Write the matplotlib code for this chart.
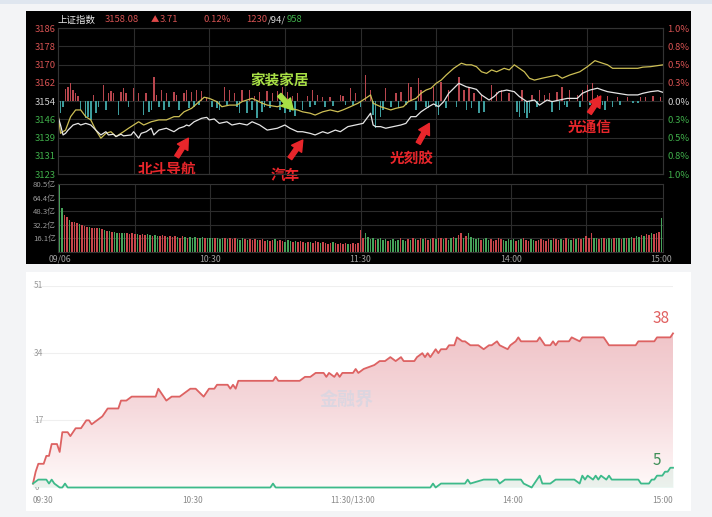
"""
Shanghai index intraday screenshot + limit-up / limit-down count chart
"""
import numpy as np
import matplotlib
matplotlib.use('Agg')
import matplotlib.pyplot as plt
from matplotlib.colors import LinearSegmentedColormap
from matplotlib.patches import Rectangle, PathPatch
from matplotlib.transforms import blended_transform_factory

plt.rcParams['font.family'] = ['Noto Sans CJK SC', 'DejaVu Sans']

W, H = 712, 517

# ---------------- data: top panel (上证指数) ----------------
prev_close = 3154.37
pct_labels = ['1.0%', '0.8%', '0.5%', '0.3%', '0.0%', '0.3%', '0.5%', '0.8%', '1.0%']

# index price (white line), minute -> price
white_t = [0, 1, 2, 3, 4, 6, 8, 9, 11, 13, 15, 17, 19, 20, 22, 23, 25, 26, 29, 30,
           32, 33, 35, 37, 38, 40, 43, 46, 48, 50, 51, 52, 54, 57, 59, 60, 62, 64, 67, 69,
           72, 75, 77, 80, 83, 87, 90, 92, 95, 97, 100, 102, 105, 107, 110, 112, 115, 118, 121, 123,
           124, 125, 126, 128, 130, 133, 136, 138, 140, 142, 144, 147, 149, 151, 153, 155, 159, 162, 164, 166,
           168, 171, 173, 175, 178, 181, 183, 186, 189, 191, 194, 196, 199, 202, 206, 208, 211, 214, 216, 218,
           222, 226, 230, 232, 235, 238, 240]
white_p = [3147.6, 3144.0, 3139.7, 3140.4, 3141.8, 3144.0, 3144.7, 3144.0, 3144.7, 3144.0,
           3141.8, 3139.7, 3141.1, 3139.7, 3140.0, 3139.0, 3140.0, 3139.3, 3139.7, 3141.1,
           3138.3, 3140.4, 3141.1, 3142.6, 3139.7, 3141.8, 3142.6, 3141.1, 3142.6, 3143.3,
           3144.0, 3143.6, 3145.4, 3146.9, 3147.3, 3146.2, 3146.6, 3144.7, 3145.4, 3144.0,
           3144.7, 3144.0, 3145.4, 3144.0, 3141.8, 3142.6, 3144.0, 3142.6, 3141.1, 3141.1,
           3140.4, 3139.7, 3141.1, 3140.4, 3141.8, 3141.1, 3143.3, 3144.0, 3144.7, 3147.6,
           3149.1, 3144.0, 3143.3, 3143.3, 3142.6, 3143.3, 3144.0, 3144.7, 3147.6, 3147.6,
           3149.7, 3151.9, 3153.1, 3151.9, 3154.1, 3157.7, 3162.0, 3160.5, 3160.0, 3159.4,
           3157.0, 3154.8, 3156.3, 3158.4, 3159.1, 3158.4, 3156.3, 3154.1, 3154.8, 3152.6,
           3154.8, 3154.1, 3154.8, 3155.5, 3155.5, 3157.7, 3159.1, 3159.9, 3159.1, 3158.4,
           3157.7, 3157.0, 3157.0, 3157.7, 3158.4, 3158.8, 3158.1]

# leading index (yellow line)
yellow_t = [0, 1, 3, 5, 7, 9, 11, 13, 15, 17, 19, 21, 23, 26, 28, 30, 32, 34, 37, 40,
            43, 46, 48, 50, 53, 56, 58, 60, 63, 65, 68, 71, 73, 77, 79, 81, 83, 87, 89, 92,
            95, 97, 100, 102, 105, 108, 111, 113, 116, 119, 122, 124, 125, 128, 130, 132, 134, 137, 139, 142,
            144, 146, 148, 150, 152, 154, 157, 160, 162, 164, 166, 168, 170, 172, 174, 177, 179, 181, 183, 185,
            187, 189, 192, 195, 198, 200, 203, 207, 210, 213, 216, 218, 220, 224, 230, 232, 235, 240]
yellow_p = [3149.1, 3140.4, 3141.8, 3147.6, 3150.5, 3150.5, 3147.6, 3146.2, 3141.8, 3138.3,
            3140.4, 3141.1, 3139.0, 3141.1, 3142.6, 3144.0, 3145.4, 3144.0, 3145.4, 3146.2,
            3146.2, 3147.6, 3147.6, 3149.7, 3151.2, 3154.1, 3156.0, 3155.5, 3154.1, 3151.9,
            3152.6, 3152.6, 3154.1, 3155.5, 3154.5, 3153.4, 3152.6, 3151.9, 3152.6, 3151.2,
            3150.5, 3149.7, 3149.1, 3148.3, 3149.7, 3150.5, 3149.7, 3150.5, 3151.9, 3153.4,
            3155.5, 3157.0, 3153.4, 3151.9, 3151.2, 3150.5, 3151.2, 3151.9, 3154.1, 3155.5,
            3157.7, 3159.1, 3159.9, 3162.0, 3163.4, 3165.6, 3168.5, 3170.7, 3170.0, 3170.0,
            3169.2, 3167.0, 3166.3, 3167.8, 3167.0, 3168.5, 3167.8, 3170.0, 3168.5, 3167.0,
            3164.2, 3163.4, 3164.2, 3164.9, 3165.6, 3164.2, 3165.6, 3167.0, 3169.2, 3171.8,
            3170.7, 3170.0, 3168.5, 3168.5, 3168.5, 3169.0, 3169.2, 3170.0]

# buy/sell strength bars around the previous close (points)
strength_t = [1, 2, 3, 4, 5, 6, 7, 8, 9, 11, 12, 13, 14, 15, 16, 18, 19, 20, 21, 22,
              24, 25, 26, 27, 28, 30, 32, 34, 35, 36, 37, 38, 39, 40, 41, 42, 43, 44, 46, 47,
              48, 50, 51, 52, 53, 54, 55, 56, 57, 59, 61, 63, 64, 66, 67, 68, 70, 71, 72, 73,
              75, 76, 77, 78, 79, 80, 81, 82, 83, 84, 85, 87, 88, 89, 90, 91, 92, 93, 94, 95,
              97, 99, 100, 101, 102, 103, 105, 106, 108, 109, 112, 113, 114, 116, 117, 118, 120, 122, 124, 125,
              126, 128, 129, 130, 132, 134, 135, 136, 138, 139, 140, 142, 143, 144, 146, 147, 149, 150, 151, 152,
              154, 155, 158, 159, 161, 162, 163, 164, 165, 167, 168, 169, 172, 174, 176, 179, 182, 183, 184, 185,
              186, 187, 188, 190, 191, 193, 195, 196, 198, 199, 200, 201, 202, 203, 206, 207, 208, 210, 211, 212,
              213, 214, 216, 217, 218, 220, 222, 223, 226, 228, 230, 231, 233, 236, 239]
strength_v = [-5.3, -2.4, 5.0, 6.2, 7.6, 4.8, 3.3, 2.2, -3.9, -7.5, -6.8, -8.2, 2.6, -5.3, -2.4, 6.9, -3.9, 3.3, 4.5, 3.6,
              -6.0, 4.0, 5.5, 3.3, -2.4, 5.5, 3.3, -6.0, 3.3, -4.6, -3.9, 10.5, 2.6, -2.4, 4.8, -3.9, 3.3, -2.4, 4.0, 2.6,
              -3.9, 3.3, 4.8, -3.2, 4.0, -2.4, 4.8, -1.7, 4.5, 1.6, -2.4, -3.2, -3.9, 5.9, -1.7, 4.8, 3.3, -2.4, -5.3, 4.8,
              -5.3, 4.8, -3.9, 2.2, -7.5, 4.0, -4.6, -2.4, 4.5, -3.2, 3.3, 4.5, -3.9, 6.2, -5.3, 4.0, -4.6, 2.2, -6.5, 3.3,
              -3.9, 2.2, -2.4, 4.8, -1.7, 2.6, 1.6, -2.4, 1.9, -2.2, 2.6, 2.2, -1.7, 5.5, -1.7, 3.3, -2.4, 11.2, 4.8, -6.0,
              -11.8, -6.8, -3.9, 5.5, -2.4, 3.3, -3.2, 4.0, -1.7, 7.6, 6.2, -3.9, 9.8, 4.8, -2.4, -3.2, 6.2, -2.4, -6.0, 8.4,
              -3.2, 4.8, -2.4, 10.5, 4.8, -3.9, 6.2, -3.2, 3.3, -5.3, 2.6, -4.6, 6.9, 4.0, 4.8, 3.3, -4.6, -6.8, 4.8, -5.3,
              -7.5, -5.3, 2.6, -2.4, 4.8, 2.6, 3.3, -4.6, 4.0, -3.9, 6.2, -1.7, -2.4, 4.8, 2.6, -2.4, 4.8, 6.9, -1.7, 7.6,
              -2.4, 2.6, -1.7, -3.9, 2.2, -2.4, 1.6, -1.7, 1.9, -1.0, -1.0, 1.6, 1.6, 2.2, 1.6]

# turnover per minute (亿) and bar colour (R = up, G = down)
volume = [80.5, 52, 44, 41, 38, 36, 35, 34, 33, 32, 31, 30, 30, 29, 28, 28, 28, 27, 26, 25,
          25, 24, 24, 23, 23, 22, 23, 22, 21, 22, 21, 21, 20, 21, 20, 21, 20, 19, 20, 19,
          19, 20, 19, 18, 19, 18, 19, 18, 17, 19, 18, 17, 18, 17, 18, 17, 16, 18, 17, 16,
          17, 16, 17, 16, 15, 17, 16, 15, 16, 15, 16, 15, 14, 16, 15, 14, 15, 14, 15, 14,
          14, 15, 13, 14, 13, 14, 15, 13, 14, 13, 12, 14, 13, 12, 13, 12, 13, 12, 11, 12,
          12, 11, 13, 12, 11, 12, 11, 10, 11, 12, 11, 10, 11, 10, 11, 10, 10, 11, 10, 11,
          26, 16, 22, 18, 15, 17, 14, 15, 16, 14, 15, 13, 14, 15, 13, 14, 16, 14, 13, 15,
          14, 16, 15, 14, 17, 15, 16, 14, 15, 16, 15, 17, 16, 15, 16, 14, 17, 18, 16, 20,
          22, 17, 19, 23, 18, 16, 15, 16, 14, 15, 16, 14, 15, 13, 14, 16, 15, 14, 13, 15,
          14, 15, 13, 14, 15, 16, 14, 13, 15, 14, 13, 14, 15, 14, 13, 15, 14, 16, 15, 14,
          15, 14, 16, 15, 14, 16, 15, 17, 15, 16, 19, 16, 22, 17, 16, 15, 17, 16, 15, 16,
          15, 16, 17, 16, 15, 16, 17, 16, 18, 17, 19, 18, 20, 19, 21, 20, 22, 21, 23, 24,
          40]
volume_dir = ("GGRRGRRRGRRRGRRRGRGR" "GRGGRGGRRRRGRRRGGRGG" "RRRGRRRGRRGRGGGRGGRG"
              "GGRGGGRGRRRGGGRGRRRG" "RRRGRRGRRRGGGRGRRRGR" "GRRRGRRRRGRRRRRGRRRR"
              "RRGGGGRGGGGRGGGGRGGR" "GRGRRGRRGRGRRGRGGRGR" "RGRGGGGGRGGGRRRRRGGG"
              "GGRGGRRRGGRRRRRRGRRR" "GRRGGRGRRGRRRGGRGRGG" "GRGGRGRGGRGGRGRRGRRR" "G")
vol_ticks = [16.1, 32.2, 48.3, 64.4, 80.5]
top_time_ticks = [0, 60, 120, 180, 240]
top_time_labels = ['09/06', '10:30', '11:30', '14:00', '15:00']

# sector call-outs: label, text pos, arrow tail, arrow head (minute, price)
callouts = [
    ('北斗导航', (43.2, 3125.0), (47.1, 3130.3), (51.7, 3138.3), '#e8262b'),
    ('汽车', (90.0, 3122.6), (92.0, 3129.6), (97.1, 3137.5), '#e8262b'),
    ('光刻胶', (140.4, 3129.5), (142.9, 3136.1), (147.3, 3144.7), '#e8262b'),
    ('光通信', (211.0, 3143.4), (210.8, 3149.1), (215.3, 3156.5), '#e8262b'),
    ('家装家居', (88.0, 3163.4), (87.8, 3157.0), (93.3, 3150.5), '#a8e045'),
]

# ---------------- data: bottom panel (涨停 / 跌停 counts) ----------------
up_t = [0, 1, 2, 4, 5, 6, 7, 9, 10, 11, 13, 14, 16, 18, 20, 21, 22, 24, 26, 27,
        28, 32, 33, 35, 37, 46, 47, 49, 50, 52, 55, 57, 59, 61, 64, 66, 68, 69, 73, 74,
        75, 76, 77, 90, 91, 92, 100, 102, 104, 106, 109, 110, 111, 113, 114, 115, 116, 120, 121, 122,
        124, 128, 130, 132, 134, 136, 138, 139, 143, 144, 146, 147, 148, 149, 151, 152, 153, 155, 156, 158,
        159, 161, 162, 164, 167, 169, 171, 172, 174, 175, 178, 179, 181, 182, 183, 189, 190, 191, 192, 194,
        195, 196, 197, 201, 202, 205, 206, 214, 216, 226, 227, 233, 234, 239, 240]
up_v = [1, 4, 6, 6, 8, 8, 11, 11, 9, 14, 14, 13, 15, 15, 17, 17, 16, 17, 18, 19,
        20, 20, 22, 22, 23, 23, 25, 23, 22, 23, 23, 24, 25, 25, 23, 25, 25, 26, 26, 25,
        26, 25, 27, 27, 28, 27, 27, 28, 28, 29, 29, 28, 29, 28, 29, 28, 29, 29, 30, 29,
        30, 31, 32, 32, 33, 32, 33, 32, 32, 33, 34, 33, 34, 33, 35, 34, 35, 35, 36, 36,
        38, 37, 37, 36, 36, 35, 36, 36, 37, 36, 35, 36, 37, 38, 37, 37, 38, 37, 36, 36,
        37, 36, 37, 37, 38, 37, 38, 38, 36, 36, 37, 37, 38, 38, 39]
down_t = [0, 2, 5, 6, 7, 8, 10, 11, 12, 13, 89, 90, 91, 149, 150, 151, 153, 162, 163, 164,
          169, 174, 175, 177, 183, 184, 187, 188, 190, 191, 194, 196, 203, 205, 206, 207, 208, 210, 211, 212,
          213, 215, 216, 217, 227, 228, 231, 232, 233, 234, 236, 237, 238, 239, 240]
down_v = [1, 2, 2, 1, 2, 1, 0, 0, 1, 0, 0, 1, 0, 0, 1, 0, 1, 1, 2, 1,
          2, 2, 1, 2, 2, 1, 0, 1, 3, 1, 1, 2, 2, 1, 3, 2, 3, 2, 3, 2,
          3, 2, 3, 2, 2, 1, 1, 2, 2, 3, 3, 4, 4, 5, 5]
count_ticks = [0, 17, 34, 51]
bottom_time_ticks = [0, 60, 120, 180, 240]
bottom_time_labels = ['09:30', '10:30', '11:30/13:00', '14:00', '15:00']


def px_rect(x0, y0, x1, y1):
    """pixel box (top-left origin) -> figure fraction rect"""
    return [x0 / W, 1 - y1 / H, (x1 - x0) / W, (y1 - y0) / H]


def px(x, y):
    return x / W, 1 - y / H


fig = plt.figure(figsize=(W / 100, H / 100), dpi=100, facecolor='#f3f4f6')

# page background pieces
for (x0, y0, x1, y1, c) in [(0, 0, 712, 4, '#dfe6ef'), (26, 11, 691, 264, '#000000'),
                            (26, 272, 691, 511, '#ffffff')]:
    fig.add_artist(Rectangle(px(x0, y1), (x1 - x0) / W, (y1 - y0) / H,
                             transform=fig.transFigure, facecolor=c, edgecolor='none', zorder=-5))

RED_TXT = '#d65252'
GRN_TXT = '#3fae4a'
GRID = '#2c2c2c'

# ---------------- price panel ----------------
ax_p = fig.add_axes(px_rect(58, 28, 663, 174), facecolor='black')
ax_p.set_xlim(0, 240)
ylo, yhi = prev_close * 0.99, prev_close * 1.01
ax_p.set_ylim(ylo, yhi)
levels = [prev_close * (1 + k * 0.0025) for k in range(-4, 5)]
for lv in levels:
    ax_p.axhline(lv, color=GRID, lw=0.8, zorder=0)
for t in range(30, 240, 30):
    ax_p.axvline(t, color=GRID, lw=0.8, zorder=0)

lvl_colors = [GRN_TXT] * 4 + ['#cfcfcf'] + [RED_TXT] * 4
ax_p.set_yticks(levels)
ax_p.set_yticklabels([f'{lv:.0f}' for lv in levels], fontsize=6.8)
for lab, c in zip(ax_p.get_yticklabels(), lvl_colors):
    lab.set_color(c)
ax_p.tick_params(length=0, pad=1.5)
ax_p.set_xticks([])

ax_r = ax_p.twinx()
ax_r.set_ylim(ylo, yhi)
ax_r.set_yticks(levels)
ax_r.set_yticklabels(pct_labels, fontsize=6.8)
for lab, c in zip(ax_r.get_yticklabels(), lvl_colors):
    lab.set_color(c)
ax_r.tick_params(length=0, pad=3)
for a in (ax_p, ax_r):
    for sp in a.spines.values():
        sp.set_color('#333333')
        sp.set_linewidth(0.8)

bar_cols = ['#b8464e' if v > 0 else '#3d9c9c' for v in strength_v]
ax_p.bar(strength_t, strength_v, bottom=prev_close, width=0.6, color=bar_cols, zorder=2)
ax_p.plot(yellow_t, yellow_p, color='#cdbf55', lw=0.9, zorder=3)
ax_p.plot(white_t, white_p, color='#e6e6e6', lw=0.9, zorder=4)

for label, tpos, tail, head, col in callouts:
    ax_p.annotate('', xy=head, xytext=tail,
                  arrowprops=dict(arrowstyle='simple,head_length=0.7,head_width=0.8,tail_width=0.3',
                                  color=col, mutation_scale=11, shrinkA=0, shrinkB=0),
                  zorder=6)
    ax_p.text(tpos[0], tpos[1], label, color=col, fontsize=10.5, fontweight='bold',
              ha='center', va='center', zorder=6, clip_on=False)

# header line; pieces chained left to right so they never collide
hdr_y = 20
fig.text(*px(58, hdr_y), '上证指数', color='#e8e8e8', fontsize=6.8, va='center')
fig.text(*px(105, hdr_y), '3158.08', color=RED_TXT, fontsize=6.8, va='center')
fig.text(*px(151, hdr_y), '▲', color='#e04848', fontsize=6, va='center')
fig.text(*px(160, hdr_y), '3.71', color=RED_TXT, fontsize=6.8, va='center')
fig.text(*px(203, hdr_y), '0.12%', color=RED_TXT, fontsize=6.8, va='center')
renderer = fig.canvas.get_renderer()
x_cur = 246
for part, col in [('1230', RED_TXT), ('/94/', '#d8d8d8'), ('958', GRN_TXT)]:
    t_obj = fig.text(*px(x_cur, hdr_y), part, color=col, fontsize=6.8, va='center')
    x_cur += t_obj.get_window_extent(renderer).width + 0.5

# ---------------- volume panel ----------------
ax_v = fig.add_axes(px_rect(58, 184, 663, 252), facecolor='black')
ax_v.set_xlim(-0.6, 240.6)
ax_v.set_ylim(0, vol_ticks[-1])
for v in vol_ticks:
    ax_v.axhline(v, color=GRID, lw=0.8, zorder=0)
for t in range(30, 240, 30):
    ax_v.axvline(t, color=GRID, lw=0.8, zorder=0)
vcols = ['#c8464b' if d == 'R' else '#46a35a' for d in volume_dir]
ax_v.bar(range(len(volume)), volume, width=0.6, color=vcols, zorder=2)
ax_v.set_yticks(vol_ticks)
ax_v.set_yticklabels([f'{v}亿' for v in vol_ticks], fontsize=5.6, color='#9a9a9a')
ax_v.set_xticks(top_time_ticks)
ax_v.set_xticklabels(top_time_labels, fontsize=6.3, color='#a0a0a0')
ax_v.tick_params(length=0, pad=1.5)
ax_v.tick_params(axis='x', pad=2)
for sp in ax_v.spines.values():
    sp.set_color('#333333')
    sp.set_linewidth(0.8)

# ---------------- limit-up / limit-down panel ----------------
ax_b = fig.add_axes(px_rect(33, 286, 673, 487.5))
ax_b.patch.set_alpha(0)
for sp in ax_b.spines.values():
    sp.set_visible(False)
for v in count_ticks[1:]:
    ax_b.axhline(v, color='#efefef', lw=0.8, zorder=0)
trans = blended_transform_factory(ax_b.transAxes, ax_b.transData)
for v in count_ticks:
    ax_b.text(0.002, v, str(v), transform=trans, fontsize=6, color='#9a9a9a',
              ha='left', va='center', zorder=1)

# gradient fill under the limit-up line
poly = ax_b.fill_between(up_t, up_v, 0, color='none', lw=0)
clip = PathPatch(poly.get_paths()[0], transform=ax_b.transData, facecolor='none', edgecolor='none')
ax_b.add_patch(clip)
grad = np.linspace(0, 1, 256).reshape(-1, 1)
cmap = LinearSegmentedColormap.from_list('pinkfade', ['#fff9f9', '#f6dadd', '#f0c4c8'])
im = ax_b.imshow(grad, extent=[0, 240, 0, max(up_v)], origin='lower', aspect='auto',
                 cmap=cmap, zorder=1)
im.set_clip_path(clip)
ax_b.fill_between(down_t, down_v, 0, color='#3dba8a', alpha=0.10, lw=0, zorder=2)

ax_b.text(0.49, 0.44, '金融界', transform=ax_b.transAxes, fontsize=13, fontweight='bold',
          color='#c9d6e6', alpha=0.55, ha='center', va='center', zorder=2)

ax_b.plot(up_t, up_v, color='#dd6262', lw=1.3, zorder=4, clip_on=False)
ax_b.plot(down_t, down_v, color='#3dba8a', lw=1.3, zorder=4, clip_on=False)
ax_b.annotate(str(38), xy=(up_t[-1], up_v[-1]), xytext=(-8.5, 10.5), textcoords='offset points',
              fontsize=11, color='#e06060', ha='center', va='center')
ax_b.annotate(str(down_v[-1]), xy=(down_t[-1], down_v[-1]), xytext=(-12, 5.5),
              textcoords='offset points', fontsize=11, color='#3e8f58', ha='center', va='center')

ax_b.set_xlim(0, 240)
ax_b.set_ylim(0, count_ticks[-1])
ax_b.set_yticks([])
ax_b.set_xticks(bottom_time_ticks)
ax_b.set_xticklabels(bottom_time_labels, fontsize=6, color='#8a8a8a')
ax_b.tick_params(length=0, pad=6)
xl = ax_b.get_xticklabels()
xl[0].set_ha('left')
xl[-1].set_ha('right')

fig.savefig('out.png', dpi=100, facecolor=fig.get_facecolor())
